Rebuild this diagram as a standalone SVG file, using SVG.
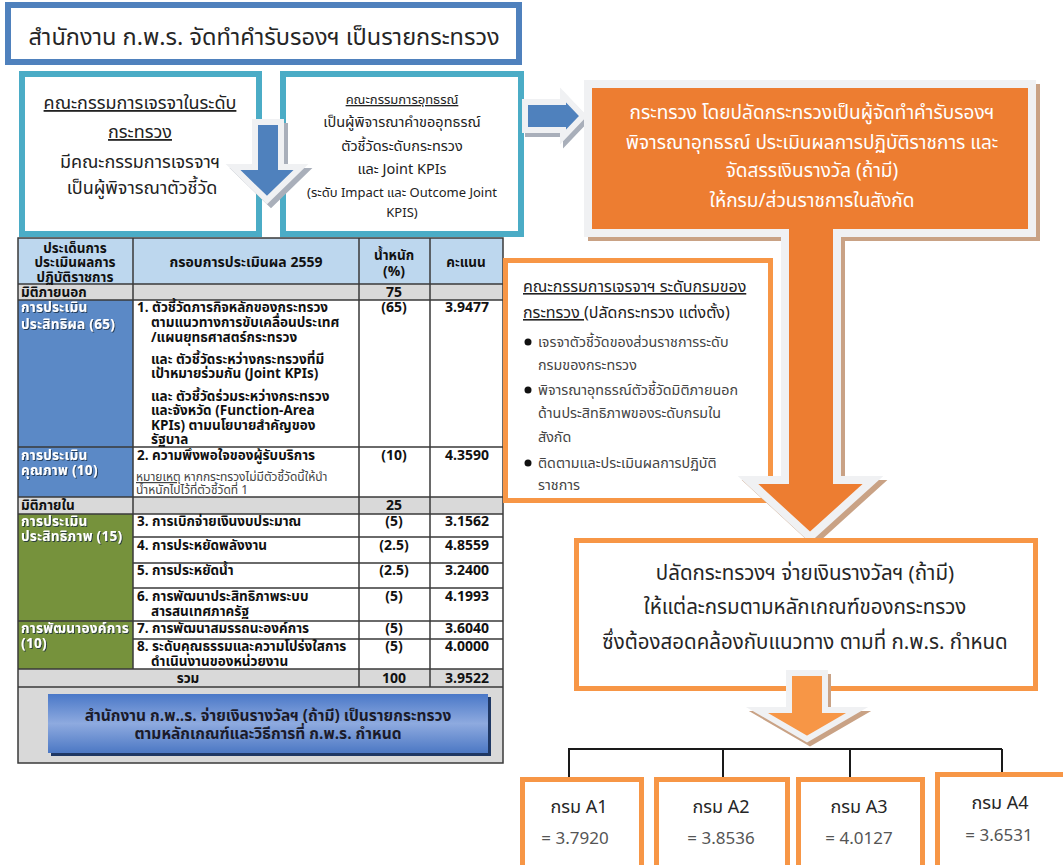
<svg xmlns="http://www.w3.org/2000/svg" width="1063" height="865" viewBox="0 0 1063 865">
<defs>
<style>
text{font-family:"Noto Sans Thai","Tahoma","Liberation Sans",sans-serif;}
.t{font-size:13.5px;font-weight:bold;fill:#111;}
.n{font-size:14px;font-weight:bold;fill:#111;text-anchor:middle;}
.c{text-anchor:middle;}
.cat{font-size:13.5px;font-weight:bold;fill:#fff;letter-spacing:0.3px;filter:url(#ts);}
.note{font-size:12px;font-weight:normal;fill:#444;}
.grid{stroke:#3a3a3a;stroke-width:1.5;fill:none;}
.u{text-decoration:underline;}
.b{font-size:14.3px;fill:#444;}
</style>
<filter id="ts" x="-10%" y="-30%" width="120%" height="160%"><feDropShadow dx="1" dy="1" stdDeviation="0.6" flood-color="#1a2a40" flood-opacity="0.8"/></filter>
<linearGradient id="btn" x1="0" y1="0" x2="0" y2="1">
<stop offset="0" stop-color="#4A78C8"/><stop offset="0.5" stop-color="#8EAADF"/><stop offset="1" stop-color="#4C78C4"/>
</linearGradient>
<marker id="ah" markerWidth="12" markerHeight="14" refX="6" refY="13" orient="auto-start-reverse" markerUnits="userSpaceOnUse" viewBox="0 0 12 14">
<path d="M0,0 L12,0 L6,14 Z" fill="#1a1a1a"/>
</marker>
</defs>
<rect width="1063" height="865" fill="#fff"/>

<g id="title">
<rect x="8" y="5" width="511" height="57" fill="#fff" stroke="#4F81BD" stroke-width="6"/>
<text x="264" y="45" class="c" style="font-size:23.5px;fill:#262626">สำนักงาน ก.พ.ร. จัดทำคำรับรองฯ เป็นรายกระทรวง</text>
</g>

<g id="ministry-committee">
<rect x="22" y="74" width="237" height="160" fill="#fff" stroke="#4BACC6" stroke-width="6"/>
<text x="140" y="109" class="c" style="font-size:18px;fill:#222"><tspan class="u">คณะกรรมการเจรจาในระดับ</tspan><tspan x="140" dy="29" class="u">กระทรวง</tspan><tspan x="140" dy="30">มีคณะกรรมการเจรจาฯ</tspan><tspan x="142" dy="26">เป็นผู้พิจารณาตัวชี้วัด</tspan></text>
</g>

<g id="appeal-committee">
<rect x="283" y="74" width="238" height="160" fill="#fff" stroke="#4BACC6" stroke-width="6"/>
<text x="402" y="104" class="c" style="font-size:13px;fill:#222"><tspan class="u">คณะกรรมการอุทธรณ์</tspan><tspan x="402" dy="23" style="font-size:14.5px">เป็นผู้พิจารณาคำขออุทธรณ์</tspan><tspan x="402" dy="24" style="font-size:14.5px">ตัวชี้วัดระดับกระทรวง</tspan><tspan x="402" dy="23" style="font-size:14.5px">และ Joint KPIs</tspan><tspan x="402" dy="23">(ระดับ Impact และ Outcome Joint</tspan><tspan x="402" dy="20">KPIS)</tspan></text>
</g>

<g id="blue-down-arrow">
<path d="M255,122 H281 V167 H301 L267,200 L233,167 H255 Z" transform="translate(4,4)" fill="#A9AFBA" stroke="#A9AFBA" stroke-width="6" stroke-linejoin="miter"/>
<path d="M255,122 H281 V167 H301 L267,200 L233,167 H255 Z" fill="#4F81BD" stroke="#F0F1F3" stroke-width="6" stroke-linejoin="miter"/>
</g>

<g id="blue-right-arrow">
<path d="M525,102 H563 V95 L583,116 L563,137 V130 H525 Z" transform="translate(3,4)" fill="#A9AFBA" stroke="#A9AFBA" stroke-width="6"/>
<path d="M525,102 H563 V95 L583,116 L563,137 V130 H525 Z" fill="#4F81BD" stroke="#F0F1F3" stroke-width="6"/>
</g>

<g id="table">
<rect x="18" y="238" width="485" height="46" fill="#BDD7EE"/>
<rect x="18" y="284" width="485" height="16" fill="#D9D9D9"/>
<rect x="18" y="300" width="115" height="197" fill="#5B89C6"/>
<rect x="18" y="497" width="485" height="17" fill="#D9D9D9"/>
<rect x="18" y="514" width="115" height="155" fill="#76923C"/>
<rect x="18" y="669" width="485" height="94" fill="#D9D9D9"/>
<rect x="18" y="238" width="485" height="525" class="grid"/>
<path class="grid" d="M133,238 V669 M359,238 V687 M430,238 V687 M18,284 H503 M18,300 H503 M18,447 H503 M18,497 H503 M18,514 H503 M133,537 H503 M133,563 H503 M133,588 H503 M18,621 H503 M133,639 H503 M18,669 H503 M18,687 H503"/>
<text x="75" y="253" class="t c">ประเด็นการ<tspan x="75" dy="14">ประเมินผลการ</tspan><tspan x="75" dy="15">ปฏิบัติราชการ</tspan></text>
<text x="246" y="267" class="t c" style="font-size:14px">กรอบการประเมินผล 2559</text>
<text x="394" y="260" class="t c">น้ำหนัก<tspan x="394" dy="16" style="font-size:14px">(%)</tspan></text>
<text x="466" y="267" class="t c">คะแนน</text>
<text x="21" y="297" class="t">มิติภายนอก</text>
<text x="394" y="297" class="n">75</text>
<text x="21" y="312" class="cat">การประเมิน<tspan x="21" dy="17">ประสิทธิผล (65)</tspan></text>
<text x="137" y="312" class="t">1. ตัวชี้วัดภารกิจหลักของกระทรวง<tspan x="151" dy="15">ตามแนวทางการขับเคลื่อนประเทศ</tspan><tspan x="151" dy="15">/แผนยุทธศาสตร์กระทรวง</tspan><tspan x="151" dy="22">และ ตัวชี้วัดระหว่างกระทรวงที่มี</tspan><tspan x="151" dy="14">เป้าหมายร่วมกัน (Joint KPIs)</tspan><tspan x="151" dy="23">และ ตัวชี้วัดร่วมระหว่างกระทรวง</tspan><tspan x="151" dy="14">และจังหวัด (Function-Area</tspan><tspan x="151" dy="15">KPIs) ตามนโยบายสำคัญของ</tspan><tspan x="151" dy="14">รัฐบาล</tspan></text>
<text x="394" y="312" class="n">(65)</text>
<text x="467" y="312" class="n">3.9477</text>
<text x="21" y="460" class="cat">การประเมิน<tspan x="21" dy="15">คุณภาพ (10)</tspan></text>
<text x="137" y="460" class="t">2. ความพึงพอใจของผู้รับบริการ<tspan x="136" y="481" class="note"><tspan class="u">หมายเหตุ</tspan> หากกระทรวงไม่มีตัวชี้วัดนี้ให้นำ</tspan><tspan x="136" y="494" class="note">น้ำหนักไปไว้ที่ตัวชี้วัดที่ 1</tspan></text>
<text x="394" y="460" class="n">(10)</text>
<text x="467" y="460" class="n">4.3590</text>
<text x="21" y="510" class="t">มิติภายใน</text>
<text x="394" y="510" class="n">25</text>
<text x="21" y="526" class="cat">การประเมิน<tspan x="21" dy="15">ประสิทธิภาพ (15)</tspan></text>
<text x="137" y="526" class="t">3. การเบิกจ่ายเงินงบประมาณ</text>
<text x="394" y="526" class="n">(5)</text>
<text x="467" y="526" class="n">3.1562</text>
<text x="137" y="550" class="t">4. การประหยัดพลังงาน</text>
<text x="394" y="550" class="n">(2.5)</text>
<text x="467" y="550" class="n">4.8559</text>
<text x="137" y="575" class="t">5. การประหยัดน้ำ</text>
<text x="394" y="575" class="n">(2.5)</text>
<text x="467" y="575" class="n">3.2400</text>
<text x="137" y="601" class="t">6. การพัฒนาประสิทธิภาพระบบ<tspan x="151" dy="15">สารสนเทศภาครัฐ</tspan></text>
<text x="394" y="601" class="n">(5)</text>
<text x="467" y="601" class="n">4.1993</text>
<text x="21" y="633" class="cat">การพัฒนาองค์การ<tspan x="21" dy="15">(10)</tspan></text>
<text x="137" y="633" class="t">7. การพัฒนาสมรรถนะองค์การ</text>
<text x="394" y="633" class="n">(5)</text>
<text x="467" y="633" class="n">3.6040</text>
<text x="137" y="651" class="t">8. ระดับคุณธรรมและความโปร่งใสการ<tspan x="151" dy="15">ดำเนินงานของหน่วยงาน</tspan></text>
<text x="394" y="651" class="n">(5)</text>
<text x="467" y="651" class="n">4.0000</text>
<text x="188" y="683" class="t c">รวม</text>
<text x="394" y="683" class="n">100</text>
<text x="467" y="683" class="n">3.9522</text>
</g>

<g id="payment-button">
<rect x="51" y="697" width="440" height="59" fill="#1F3864"/>
<rect x="48" y="694" width="440" height="59" fill="url(#btn)"/>
<text x="268" y="721" class="c" style="font-size:15.5px;font-weight:bold;fill:#1b1b2a">สำนักงาน ก.พ..ร. จ่ายเงินรางวัลฯ (ถ้ามี) เป็นรายกระทรวง<tspan x="268" dy="18">ตามหลักเกณฑ์และวิธีการที่ ก.พ.ร. กำหนด</tspan></text>
</g>

<g id="dept-committee">
<rect x="505.5" y="260.5" width="265" height="240" fill="#fff" stroke="#F79646" stroke-width="5"/>
<text x="523" y="292" style="font-size:16px;fill:#222"><tspan class="u">คณะกรรมการเจรจาฯ ระดับกรมของ</tspan><tspan x="523" dy="26" class="u">กระทรวง </tspan><tspan>(ปลัดกระทรวง แต่งตั้ง)</tspan></text>
<circle cx="528" cy="342" r="3.5" fill="#111"/>
<circle cx="528" cy="390" r="3.5" fill="#111"/>
<circle cx="528" cy="463" r="3.5" fill="#111"/>
<text x="538" y="347" class="b">เจรจาตัวชี้วัดของส่วนราชการระดับ<tspan x="538" dy="23">กรมของกระทรวง</tspan></text>
<text x="538" y="395" class="b">พิจารณาอุทธรณ์ตัวชี้วัดมิติภายนอก<tspan x="538" dy="23">ด้านประสิทธิภาพของระดับกรมใน</tspan><tspan x="538" dy="24">สังกัด</tspan></text>
<text x="538" y="468" class="b">ติดตามและประเมินผลการปฏิบัติ<tspan x="538" dy="22">ราชการ</tspan></text>
</g>

<g id="ministry-evaluation">
<path d="M588,84 H1032 V233 H837 V480 H873 L810,537 L748,480 H785 V233 H588 Z" transform="translate(4,4)" fill="#C9A285" stroke="#C9A285" stroke-width="8"/>
<path d="M588,84 H1032 V233 H837 V480 H873 L810,537 L748,480 H785 V233 H588 Z" fill="#ED7D31" stroke="#F0F1F3" stroke-width="8"/>
<text x="812" y="119" class="c" style="font-size:19px;fill:#fff">กระทรวง โดยปลัดกระทรวงเป็นผู้จัดทำคำรับรองฯ<tspan x="812" dy="30">พิจารณาอุทธรณ์ ประเมินผลการปฏิบัติราชการ และ</tspan><tspan x="812" dy="28">จัดสรรเงินรางวัล (ถ้ามี)</tspan><tspan x="812" dy="30">ให้กรม/ส่วนราชการในสังกัด</tspan></text>
</g>

<g id="ps-payment">
<rect x="576.5" y="540.5" width="459" height="148" fill="#fff" stroke="#F79646" stroke-width="5"/>
<text x="805" y="580" class="c" style="font-size:20.5px;fill:#262626">ปลัดกระทรวงฯ จ่ายเงินรางวัลฯ (ถ้ามี)<tspan x="805" dy="34">ให้แต่ละกรมตามหลักเกณฑ์ของกระทรวง</tspan><tspan x="805" dy="35">ซึ่งต้องสอดคล้องกับแนวทาง ตามที่ ก.พ.ร. กำหนด</tspan></text>
</g>

<g id="small-orange-arrow">
<path d="M789,673 H825 V710 H857 L807,739 L757,710 H789 Z" transform="translate(3,4)" fill="#C9A285" stroke="#C9A285" stroke-width="6"/>
<path d="M789,673 H825 V710 H857 L807,739 L757,710 H789 Z" fill="#F79646" stroke="#F0F1F3" stroke-width="6"/>
</g>

<g id="connectors" fill="none" stroke="#1a1a1a" stroke-width="2">
<path d="M569,777 V749 H1002"/>
<path d="M723,749 V784" marker-end="url(#ah)"/>
<path d="M850,749 V784" marker-end="url(#ah)"/>
<path d="M1002,749 V784" marker-end="url(#ah)"/>
</g>

<g id="dept-a1">
<rect x="522.5" y="779.5" width="119" height="95" fill="#fff" stroke="#F79646" stroke-width="5"/>
<text x="579" y="813" class="c" style="font-size:18px;fill:#262626">กรม A1</text>
<text x="575" y="844" class="c" style="font-size:17px;fill:#555">= 3.7920</text>
</g>
<g id="dept-a2">
<rect x="656.5" y="779.5" width="131" height="95" fill="#fff" stroke="#F79646" stroke-width="5"/>
<text x="721" y="813" class="c" style="font-size:18px;fill:#262626">กรม A2</text>
<text x="721" y="844" class="c" style="font-size:17px;fill:#555">= 3.8536</text>
</g>
<g id="dept-a3">
<rect x="798.5" y="779.5" width="124" height="95" fill="#fff" stroke="#F79646" stroke-width="5"/>
<text x="859" y="813" class="c" style="font-size:18px;fill:#262626">กรม A3</text>
<text x="859" y="844" class="c" style="font-size:17px;fill:#555">= 4.0127</text>
</g>
<g id="dept-a4">
<rect x="937.5" y="774.5" width="130" height="100" fill="#fff" stroke="#F79646" stroke-width="5"/>
<text x="1000" y="809" class="c" style="font-size:18px;fill:#262626">กรม A4</text>
<text x="999" y="841" class="c" style="font-size:17px;fill:#555">= 3.6531</text>
</g>
</svg>
